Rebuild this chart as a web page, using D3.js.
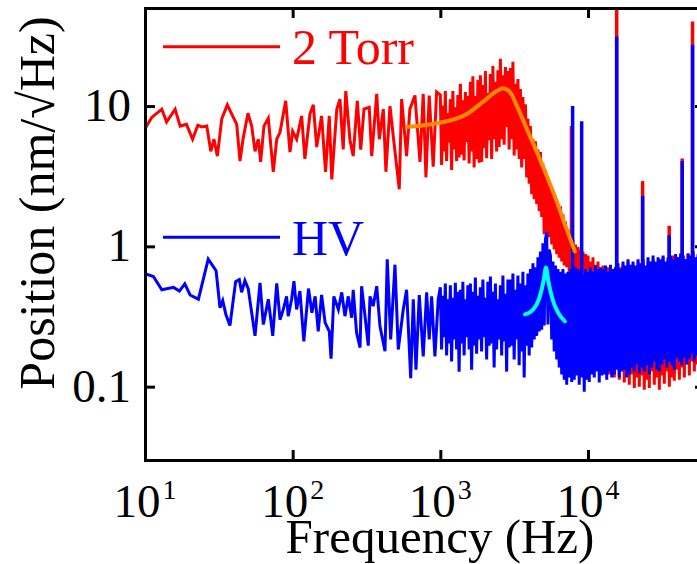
<!DOCTYPE html>
<html><head><meta charset="utf-8">
<script src="https://cdn.jsdelivr.net/npm/d3@7"></script>
<style>html,body{margin:0;padding:0;background:#fff;}svg{display:block;}</style>
</head><body>
<svg id="chart" width="697" height="564"></svg>
<script>
// ---------------- data (frequency in Hz, position noise in nm/√Hz) ----------------
const xTickVals = [10, 100, 1000, 10000];
const xTickExp = ["1", "2", "3", "4"];
const yTickVals = [0.1, 1, 10];
const yTickLabels = ["0.1", "1", "10"];
const legendLabels = ["2 Torr", "HV"];

// low-frequency part, read point by point
const torrLow = [
[10,6.9],[11.1,8.3],[13,9.5],[14,7.7],[16,9.5],[17.3,7.2],[19.1,7.4],[21,5.8],[22.8,7.3],[24.2,7.1],
[26.2,7.2],[27.9,4.76],[29.3,5.8],[30.9,4.4],[33.1,8.1],[36.1,10.2],[38.6,8.8],[41.8,7.4],[44,4.05],[46.1,5.8],
[49.8,8.9],[52.8,7.2],[55.6,4.76],[58.5,5.8],[60.7,4.0],[63.9,7.2],[68.4,8.2],[73.9,3.4],[78,5.8],[82.1,6.5],
[89.7,10.9],[95.9,4.7],[100,6.6],[106.4,5.8],[115,8.5],[121,4.2],[131,8.8],[138,10.2],[145.5,5.1],[157,8.5],
[167,3.4],[177,8.5],[184,3.0],[199,9.5],[209,11.2],[220,4.9],[229,12.8],[244,5.8],[257,4.4],[274,10.9],
[289,4.9],[304,9.5],[330,9.8],[343,4.4],[371,12.2],[386,5.8],[411,9.5],[428,3.4],[456,10],[480,6.1],
[527,2.55],[547,11.2],[591,4.4],[622,9.5],[673,11.9],[728,4.0],[766,12.2],[799,3.1],[841,11.9],[895,3.7],
[944,12.6]
];
const hvLow = [
[10,0.64],[11.4,0.61],[13,0.49],[15.6,0.51],[17.1,0.48],[18.6,0.54],[20.2,0.45],[23,0.42],[26.8,0.81],[30.3,0.67],
[32.2,0.365],[33.6,0.41],[35.3,0.327],[37.6,0.273],[41.1,0.56],[43.5,0.58],[45.1,0.47],[47.5,0.57],[50,0.5],[55.6,0.23],
[60.1,0.55],[63.3,0.277],[68.4,0.42],[73.3,0.23],[78,0.545],[82.1,0.3],[86.4,0.355],[91,0.44],[93.3,0.318],[98.4,0.42],
[102,0.565],[106.4,0.355],[112,0.48],[119,0.21],[128,0.5],[135,0.336],[142,0.44],[149,0.248],[157,0.45],[166,0.285],
[177,0.248],[182,0.158],[190,0.44],[204,0.355],[215,0.47],[226,0.318],[238,0.44],[251,0.31],[257,0.49],[271,0.242],
[286,0.19],[293,0.52],[309,0.318],[325,0.196],[334,0.44],[351,0.375],[371,0.52],[390,0.27],[422,0.179],[437,0.81],
[461,0.217],[493,0.74],[519,0.184],[561,0.355],[591,0.49],[630,0.115],[656,0.42],[684,0.132],[720,0.45],[766,0.164],
[808,0.47],[841,0.217],[873,0.44],[919,0.164],[968,0.42]
];

// dense high-frequency part: shared frequency grid, one value per frequency for each series
const denseFreq = [
1000,1020,1040,1060,1081,1103,1124,1146,1169,1192,1216,1240,1264,1289,1314,1340,1367,1394,1421,1449,
1478,1507,1536,1567,1598,1629,1661,1694,1727,1761,1796,1831,1867,1904,1942,1980,2019,2059,2099,2141,
2183,2226,2270,2314,2360,2406,2454,2502,2551,2602,2653,2705,2759,2813,2868,2925,2983,3041,3101,3162,
3225,3288,3353,3419,3486,3555,3625,3697,3770,3844,3920,3997,4075,4156,4238,4321,4406,4493,4582,4672,
4764,4858,4953,5051,5150,5252,5355,5461,5569,5678,5790,5904,6021,6139,6260,6384,6509,6638,6769,6902,
7038,7177,7318,7462,7609,7759,7912,8068,8227,8389,8555,8723,8895,9070,9249,9431,9617,9807,
10000,10200,10400,10600,10810,11030,11240,11460,11690,11920,12160,12400,12640,12890,13140,13400,13670,13940,14210,14490,
14780,15070,15360,15670,15980,16290,16610,16940,17270,17610,17960,18310,18670,19040,19420,19800,20190,20590,20990,21410,
21830,22260,22700,23140,23600,24060,24540,25020,25510,26020,26530,27050,27590,28130,28680,29250,29830,30410,31010,31620,
32250,32880,33530,34190,34860,35550,36250,36970,37700,38440,39200,39970,40750,41560,42380,43210,44060,44930,45820,46720,
47640,48580,49530,50510,51500,52520,53550,54610,55690,56780,57900,59040,60210,61390
];
const torrDense = [
12.0,3.8,10.1,4.75,12.8,4.05,8.9,5.5, 11.2,3.5,12.8,4.9,9.8,4.05,12.0,4.3,
14.4,4.5,11.0,4.1,12.6,5.55,11.8,3.9, 14.9,4.75,16.3,3.65,11.8,4.2,15.3,3.95,
16.6,4.0,14.1,5.0,17.8,4.25,12.4,5.7, 16.9,4.2,19.3,5.8,14.9,4.75,18.0,5.1,
21.7,5.8,16.6,5.3,19.0,7.1,17.8,4.9, 18.7,5.8,20.7,4.45,14.4,4.9,15.6,4.2,
13.2,3.65,11.6,4.2,10.3,3.1,8.1,2.8, 7.2,2.35,5.8,2.17,5.6,2.0,4.9,1.78,
4.7,1.62,3.9,1.22,3.5,1.12,2.9,1.16, 2.7,1.03,2.35,0.95,2.27,0.88,2.0,0.83,
1.93,0.78,1.69,0.73,1.5,0.71,1.32,0.66, 1.2,0.63,
1.12,0.6,1.03,0.56,0.99,0.49, 0.95,0.42,0.92,0.30,0.88,0.255,
0.86,0.20,0.78,0.217,0.835,0.17,0.74,0.184,0.78,0.144,
0.69,0.16,0.73,0.128,0.66,0.151,0.71,0.122,0.63,0.144,0.69,0.116,
0.71, 0.137,0.66,0.112,0.71,0.132,0.74,0.107,0.69,0.128,
0.78,0.103,0.71,0.122,0.74,0.098,0.69,0.116,0.78,0.1,0.71,0.12,
0.757,0.095,0.69,0.112,0.78,0.098,0.73,0.128,0.81,0.103,
0.71,0.116,0.78,0.095,0.74,0.12,0.835,0.105,0.757,0.128,0.81,
0.1,0.78,0.116,0.86,0.11,0.78,0.132,0.835,0.112,0.78,0.137,
0.86,0.116,0.81,0.144,0.89,0.12,0.835,0.151,
0.88,0.128,0.835,0.144,0.86,0.132,0.81,0.144,0.835
];
const hvDense = [
0.51,0.184,0.445,0.225,0.544,0.167,0.42,0.203, 0.527,0.151,0.43,0.217,0.55,0.184,0.475,0.128,
0.49,0.203,0.56,0.167,0.42,0.225,0.527,0.184, 0.544,0.132,0.475,0.196,0.60,0.172,0.445,0.217,
0.51,0.178,0.58,0.225,0.43,0.156,0.56,0.196, 0.61,0.203,0.475,0.137,0.544,0.184,0.42,0.217,
0.527,0.167,0.62,0.21,0.46,0.128,0.58,0.19, 0.58,0.196,0.64,0.156,0.49,0.217,0.62,0.142,
0.544,0.178,0.66,0.116,0.527,0.196,0.64,0.167, 0.69,0.19,0.757,0.217,0.71,0.23,0.835,0.247,
0.92,0.255,1.05,0.273,1.12,1.26,0.277,0.95, 0.86,0.217,0.78,0.178,0.73,0.156,0.69,0.137,
0.66,0.122,0.69,0.112,0.64,0.103,0.66,0.116,0.69,0.108,
0.66,0.112,0.71,0.12,0.69,0.103,0.66,0.116,0.63,0.092,0.69,0.112,
0.66,0.108,0.71,0.122,0.66,0.116,0.73,0.128,0.69,0.107,0.71,0.12,
0.69,0.122,0.73,0.112,0.66,0.128,0.74,0.116,0.69,0.122,0.71,0.132,
0.757,0.116,0.69,0.128,0.78,0.132,0.73,0.116,0.81,0.122,0.74,0.137,
0.78,0.128,0.73,0.144,0.81,0.124,0.757,0.137,0.81,0.128,0.73,0.142,
0.835,0.122,0.78,0.137,0.86,0.151,0.78,0.132,0.835,0.128,0.81,0.144,
0.86,0.156,0.78,0.137,0.835,0.151,0.86,0.142,0.81,0.132,0.88,0.161,
0.835,0.151,0.89,0.142,0.86,0.161,0.81,0.144,0.89,0.156,0.86,0.17,
0.92,0.151,0.835,0.167,0.88,0.156,0.835,0.146,0.86,0.161
];

// narrow mechanical/electrical lines: [frequency, peak value]
const torrPeaks = [[7730,7.2],[15640,80],[23440,2.92],[35480,1.4],[43450,4.23],[51050,40]];
const hvPeaks = [[7870,10],[9060,7.8],[15640,31.3],[23440,2.29],[35480,1.2],[43450,4.06],[51050,27.4]];
const peakBase = 0.6;

// fits
const torrFit = [[594,7.08],[891,7.44],[1514,8.77],[1941,10.7],[2414,12.8],[2654,13.4],[2958,12.6],[3303,10],[3857,6.85],[4723,4.18],[6063,2.17],[7085,1.37],[8150,0.92]];
const hvFit = [[3741,0.327],[4256,0.355],[4723,0.442],[5025,0.581],[5188,0.708],[5386,0.565],[5757,0.418],[6283,0.336],[6978,0.292]];

// ---------------- drawing ----------------
const FONT = '"Liberation Serif","Times New Roman",serif';
const L = 145, R = 705, T = 8, B = 460;
const svg = d3.select("#chart");
const x = d3.scaleLog().domain([10, 62000]).range([L, R]);
const y = d3.scaleLog().domain([0.03, 50]).range([B, T]);

const torrSeries = torrLow.concat(denseFreq.map((f, i) => [f, torrDense[i]]));
const hvSeries = hvLow.concat(denseFreq.map((f, i) => [f, hvDense[i]]));

svg.append("defs").append("clipPath").attr("id", "clip")
  .append("rect").attr("x", L).attr("y", T).attr("width", R - L).attr("height", B - T);

const line = d3.line().x(d => x(d[0])).y(d => y(d[1]));
const smooth = d3.line().x(d => x(d[0])).y(d => y(d[1])).curve(d3.curveMonotoneX);
const plot = svg.append("g").attr("clip-path", "url(#clip)");

function drawSpectrum(series, peaks, color) {
  plot.append("path").datum(series).attr("d", line)
    .attr("fill", "none").attr("stroke", color).attr("stroke-width", 3);
  plot.append("g").selectAll("line").data(peaks).join("line")
    .attr("x1", d => x(d[0])).attr("x2", d => x(d[0]))
    .attr("y1", y(peakBase)).attr("y2", d => y(d[1]))
    .attr("stroke", color).attr("stroke-width", 3.5);
}
drawSpectrum(torrSeries, torrPeaks, "#ff0000");
drawSpectrum(hvSeries, hvPeaks, "#0000ff");

plot.append("path").datum(torrFit).attr("d", smooth)
  .attr("fill", "none").attr("stroke", "#ff8c00").attr("stroke-width", 4).attr("stroke-linecap", "round");
plot.append("path").datum(hvFit).attr("d", smooth)
  .attr("fill", "none").attr("stroke", "#00ffff").attr("stroke-width", 4).attr("stroke-linecap", "round");

// axes (ticks point inwards)
function styleAxis(g) {
  g.select(".domain").attr("stroke", "#000").attr("stroke-width", 3).attr("stroke-linecap", "square");
  g.selectAll(".tick line").attr("stroke", "#000").attr("stroke-width", 3);
  g.selectAll(".tick text").remove();
}
const gB = svg.append("g").attr("transform", `translate(0,${B})`)
  .call(d3.axisBottom(x).tickValues(xTickVals).tickSize(-10).tickSizeOuter(0).tickFormat(""));
styleAxis(gB);
const gT = svg.append("g").attr("transform", `translate(0,${T})`)
  .call(d3.axisTop(x).tickValues(xTickVals).tickSize(-10).tickSizeOuter(0).tickFormat(""));
styleAxis(gT);
const gL = svg.append("g").attr("transform", `translate(${L},0)`)
  .call(d3.axisLeft(y).tickValues(yTickVals).tickSize(-10).tickSizeOuter(0).tickFormat(""));
styleAxis(gL);
const gR = svg.append("g").attr("transform", `translate(${R},0)`)
  .call(d3.axisRight(y).tickValues(yTickVals).tickSize(-10).tickSizeOuter(0).tickFormat(""));
styleAxis(gR);

// x tick labels 10^n
xTickVals.forEach((v, i) => {
  const t = svg.append("text").attr("x", x(v)).attr("y", 517)
    .attr("text-anchor", "middle").attr("font-family", FONT).attr("font-size", 47).attr("fill", "#000");
  t.append("tspan").text("10");
  t.append("tspan").attr("dx", 2).attr("dy", -18).attr("font-size", 28).text(xTickExp[i]);
});
// y tick labels
yTickVals.forEach((v, i) => {
  svg.append("text").attr("x", 131).attr("y", y(v) + 15)
    .attr("text-anchor", "end").attr("font-family", FONT).attr("font-size", 47).attr("fill", "#000")
    .text(yTickLabels[i]);
});

// axis titles
svg.append("text").attr("x", 440).attr("y", 553).attr("text-anchor", "middle")
  .attr("font-family", FONT).attr("font-size", 49).attr("fill", "#000").text("Frequency (Hz)");
svg.append("text").attr("transform", "translate(54,203) rotate(-90)").attr("text-anchor", "middle")
  .attr("font-family", FONT).attr("font-size", 50).attr("fill", "#000").text("Position (nm/\u221AHz)");

// legend
const legendColors = ["#ff0000", "#0000ff"];
const legendY = [46.7, 237.3];
legendLabels.forEach((lab, i) => {
  svg.append("line").attr("x1", 163).attr("x2", 280).attr("y1", legendY[i]).attr("y2", legendY[i])
    .attr("stroke", legendColors[i]).attr("stroke-width", 3);
  svg.append("text").attr("x", 292).attr("y", legendY[i] + 17.5)
    .attr("font-family", FONT).attr("font-size", 50).attr("fill", legendColors[i]).text(lab);
});
</script>
</body></html>
